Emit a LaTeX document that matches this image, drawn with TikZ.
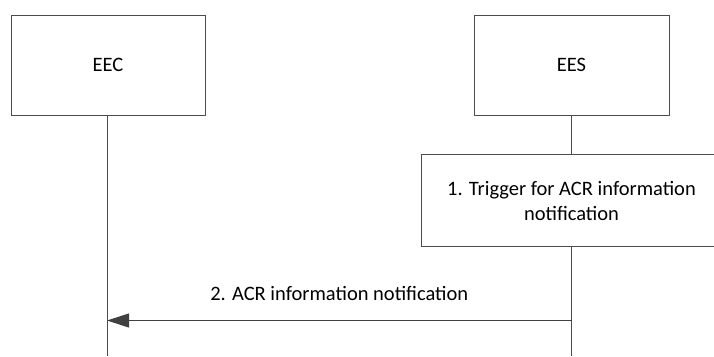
\documentclass[tikz,border=0pt]{standalone}
\usepackage{fontspec}
\setmainfont{Carlito}
\usetikzlibrary{arrows.meta}
\begin{document}
\begin{tikzpicture}[x=1pt,y=-1pt,
  txt/.style={font=\fontsize{20.5}{25}\selectfont},
  box/.style={draw=black!70,line width=1pt,fill=white,inner sep=0pt,txt},
  life/.style={draw=black!70,line width=1pt},
  msg/.style={draw=black!75,line width=1pt,-{Triangle[length=22pt,width=14pt]}}]
\useasboundingbox (0,0) rectangle (714,356);
\clip (0,0) rectangle (714,356);
\node[box,minimum width=194pt,minimum height=100pt] (eec) at (108,65) {EEC};
\node[box,minimum width=195pt,minimum height=100pt] (ees) at (571.5,65) {EES};
\coordinate (eecend) at (107,356);
\coordinate (eesend) at (571.5,356);
\draw[life] (eec.south -| eecend) -- (eecend);
\draw[life] (ees.south -| eesend) -- (eesend);
\node[box,minimum width=301pt,minimum height=92.5pt,align=center] (trig) at (571.5,200.5) {1. Trigger for ACR information\\notification};
\coordinate (m2s) at (571.5,320.5);
\coordinate (m2e) at (107,320.5);
\draw[msg] (m2s) -- node[midway,anchor=base,yshift=19.8pt,txt] (m2l) {2. ACR information notification} (m2e);
\end{tikzpicture}
\end{document}
